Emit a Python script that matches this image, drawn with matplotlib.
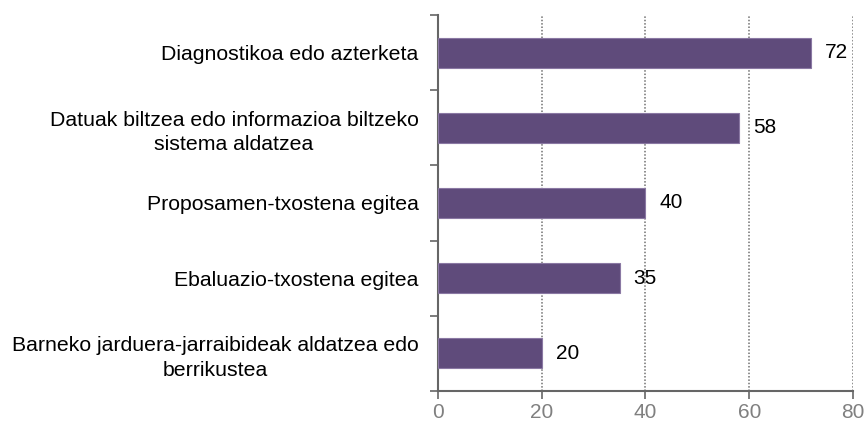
import matplotlib.pyplot as plt
import numpy as np

categories = [
    "Diagnostikoa edo azterketa",
    "Datuak biltzea edo informazioa biltzeko\nsistema aldatzea",
    "Proposamen-txostena egitea",
    "Ebaluazio-txostena egitea",
    "Barneko jarduera-jarraibideak aldatzea edo\nberrikustea",
]
values = [72, 58, 40, 35, 20]
xticks = [0, 20, 40, 60, 80]

plt.rcParams['font.family'] = ['Liberation Sans', 'DejaVu Sans']

fig = plt.figure(figsize=(8.68, 4.23), dpi=100)
ax = fig.add_axes([0.5046, 0.0757, 0.4781, 0.8888])

y = np.arange(len(categories))
ax.barh(y, values, height=0.4, color='#5f4b7b', edgecolor='#8a78a3', linewidth=0.8, zorder=3)

for yi, v in zip(y, values):
    ax.annotate(str(v), (v, yi), xytext=(10, 0), textcoords='offset points',
                va='center', ha='left', fontsize=15, color='black', zorder=4)

ax.set_xlim(0, 80)
ax.set_ylim(len(categories) - 0.5, -0.5)
ax.set_xticks(xticks)
ax.set_yticks(y)
ax.set_yticklabels(categories, fontsize=15.3, multialignment='center', linespacing=1.35)
ax.tick_params(axis='y', length=0, pad=14)
ax.set_yticks(np.arange(-0.5, len(categories)), minor=True)
ax.tick_params(axis='y', which='minor', length=6, width=1.2, color='#666666')
ax.tick_params(axis='x', length=6, width=1.2, color='#666666', labelcolor='#808080', labelsize=15, pad=3)

ax.grid(axis='x', linestyle=(0, (1, 1.2)), color='#707070', linewidth=1.1, zorder=0)
for s in ['top', 'right']:
    ax.spines[s].set_visible(False)
for s in ['left', 'bottom']:
    ax.spines[s].set_color('#666666')
    ax.spines[s].set_linewidth(1.5)

fig.savefig('out.png', dpi=100)
